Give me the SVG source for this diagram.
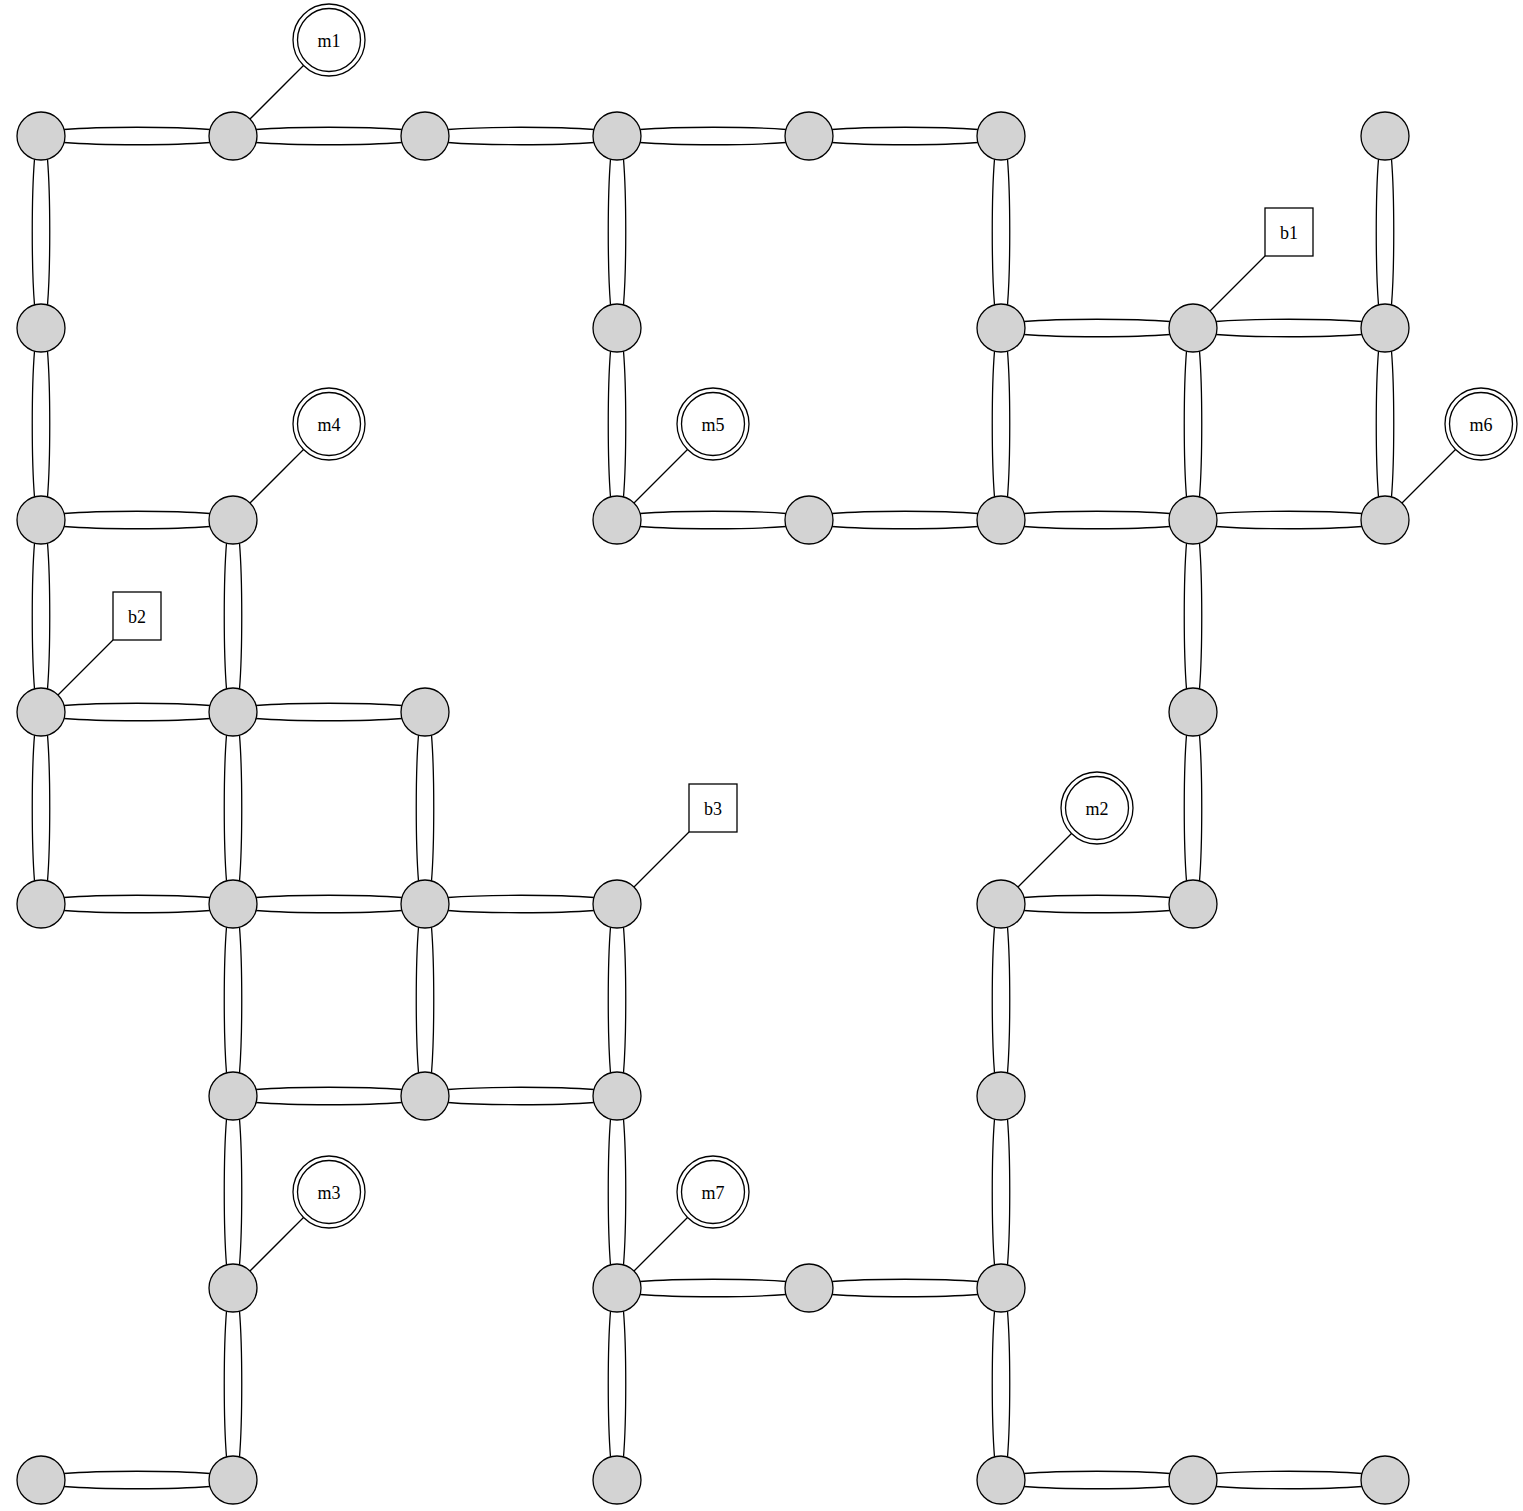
<svg xmlns="http://www.w3.org/2000/svg" xmlns:xlink="http://www.w3.org/1999/xlink" width="1523" height="1511" viewBox="0 0 1523 1511">
<style>
.e{fill:none;stroke:#000;stroke-width:1.3}
.n{fill:#d3d3d3;stroke:#000;stroke-width:1.3}
.m{fill:#fff;stroke:#000;stroke-width:1.3}
.l{stroke:#000;stroke-width:1.3}
text{font-family:"Liberation Serif","Times New Roman",serif;font-size:18px;text-anchor:middle;fill:#000}
</style>
<defs>
<g id="h"><path class="e" d="M23.1,-6.5 C60,-9.5 132,-9.5 168.9,-6.5"/><path class="e" d="M23.1,6.5 C60,9.5 132,9.5 168.9,6.5"/></g>
<g id="v"><path class="e" d="M-6.5,23.1 C-9.5,60 -9.5,132 -6.5,168.9"/><path class="e" d="M6.5,23.1 C9.5,60 9.5,132 6.5,168.9"/></g>
</defs>
<rect width="1523" height="1511" fill="#fff"/>
<g id="connectors">
<use href="#h" x="41" y="136"/><use href="#h" x="233" y="136"/><use href="#h" x="425" y="136"/><use href="#h" x="617" y="136"/><use href="#h" x="809" y="136"/>
<use href="#h" x="1001" y="328"/><use href="#h" x="1193" y="328"/>
<use href="#h" x="41" y="520"/><use href="#h" x="617" y="520"/><use href="#h" x="809" y="520"/><use href="#h" x="1001" y="520"/><use href="#h" x="1193" y="520"/>
<use href="#h" x="41" y="712"/><use href="#h" x="233" y="712"/>
<use href="#h" x="41" y="904"/><use href="#h" x="233" y="904"/><use href="#h" x="425" y="904"/><use href="#h" x="1001" y="904"/>
<use href="#h" x="233" y="1096"/><use href="#h" x="425" y="1096"/>
<use href="#h" x="617" y="1288"/><use href="#h" x="809" y="1288"/>
<use href="#h" x="41" y="1480"/><use href="#h" x="1001" y="1480"/><use href="#h" x="1193" y="1480"/>
<use href="#v" x="41" y="136"/><use href="#v" x="41" y="328"/><use href="#v" x="41" y="520"/><use href="#v" x="41" y="712"/>
<use href="#v" x="233" y="520"/><use href="#v" x="233" y="712"/><use href="#v" x="233" y="904"/><use href="#v" x="233" y="1096"/><use href="#v" x="233" y="1288"/>
<use href="#v" x="425" y="712"/><use href="#v" x="425" y="904"/>
<use href="#v" x="617" y="136"/><use href="#v" x="617" y="328"/><use href="#v" x="617" y="904"/><use href="#v" x="617" y="1096"/><use href="#v" x="617" y="1288"/>
<use href="#v" x="1001" y="136"/><use href="#v" x="1001" y="328"/><use href="#v" x="1001" y="904"/><use href="#v" x="1001" y="1096"/><use href="#v" x="1001" y="1288"/>
<use href="#v" x="1193" y="328"/><use href="#v" x="1193" y="520"/><use href="#v" x="1193" y="712"/>
<use href="#v" x="1385" y="136"/><use href="#v" x="1385" y="328"/>
<line class="l" x1="250" y1="119" x2="303.5" y2="65.5"/>
<line class="l" x1="1210" y1="311" x2="1265" y2="256"/>
<line class="l" x1="250" y1="503" x2="303.5" y2="449.5"/>
<line class="l" x1="634" y1="503" x2="687.5" y2="449.5"/>
<line class="l" x1="1402" y1="503" x2="1455.5" y2="449.5"/>
<line class="l" x1="58" y1="695" x2="113" y2="640"/>
<line class="l" x1="634" y1="887" x2="689" y2="832"/>
<line class="l" x1="1018" y1="887" x2="1071.5" y2="833.5"/>
<line class="l" x1="250" y1="1271" x2="303.5" y2="1217.5"/>
<line class="l" x1="634" y1="1271" x2="687.5" y2="1217.5"/>
</g>
<g id="grid-nodes">
<circle class="n" cx="41" cy="136" r="24"/><circle class="n" cx="233" cy="136" r="24"/><circle class="n" cx="425" cy="136" r="24"/><circle class="n" cx="617" cy="136" r="24"/><circle class="n" cx="809" cy="136" r="24"/><circle class="n" cx="1001" cy="136" r="24"/><circle class="n" cx="1385" cy="136" r="24"/>
<circle class="n" cx="41" cy="328" r="24"/><circle class="n" cx="617" cy="328" r="24"/><circle class="n" cx="1001" cy="328" r="24"/><circle class="n" cx="1193" cy="328" r="24"/><circle class="n" cx="1385" cy="328" r="24"/>
<circle class="n" cx="41" cy="520" r="24"/><circle class="n" cx="233" cy="520" r="24"/><circle class="n" cx="617" cy="520" r="24"/><circle class="n" cx="809" cy="520" r="24"/><circle class="n" cx="1001" cy="520" r="24"/><circle class="n" cx="1193" cy="520" r="24"/><circle class="n" cx="1385" cy="520" r="24"/>
<circle class="n" cx="41" cy="712" r="24"/><circle class="n" cx="233" cy="712" r="24"/><circle class="n" cx="425" cy="712" r="24"/><circle class="n" cx="1193" cy="712" r="24"/>
<circle class="n" cx="41" cy="904" r="24"/><circle class="n" cx="233" cy="904" r="24"/><circle class="n" cx="425" cy="904" r="24"/><circle class="n" cx="617" cy="904" r="24"/><circle class="n" cx="1001" cy="904" r="24"/><circle class="n" cx="1193" cy="904" r="24"/>
<circle class="n" cx="233" cy="1096" r="24"/><circle class="n" cx="425" cy="1096" r="24"/><circle class="n" cx="617" cy="1096" r="24"/><circle class="n" cx="1001" cy="1096" r="24"/>
<circle class="n" cx="233" cy="1288" r="24"/><circle class="n" cx="617" cy="1288" r="24"/><circle class="n" cx="809" cy="1288" r="24"/><circle class="n" cx="1001" cy="1288" r="24"/>
<circle class="n" cx="41" cy="1480" r="24"/><circle class="n" cx="233" cy="1480" r="24"/><circle class="n" cx="617" cy="1480" r="24"/><circle class="n" cx="1001" cy="1480" r="24"/><circle class="n" cx="1193" cy="1480" r="24"/><circle class="n" cx="1385" cy="1480" r="24"/>
</g>
<g id="m1"><circle class="m" cx="329" cy="40" r="36"/><circle class="m" cx="329" cy="40" r="31.5"/><text x="329" y="46.5">m1</text></g>
<g id="m2"><circle class="m" cx="1097" cy="808" r="36"/><circle class="m" cx="1097" cy="808" r="31.5"/><text x="1097" y="814.5">m2</text></g>
<g id="m3"><circle class="m" cx="329" cy="1192" r="36"/><circle class="m" cx="329" cy="1192" r="31.5"/><text x="329" y="1198.5">m3</text></g>
<g id="m4"><circle class="m" cx="329" cy="424" r="36"/><circle class="m" cx="329" cy="424" r="31.5"/><text x="329" y="430.5">m4</text></g>
<g id="m5"><circle class="m" cx="713" cy="424" r="36"/><circle class="m" cx="713" cy="424" r="31.5"/><text x="713" y="430.5">m5</text></g>
<g id="m6"><circle class="m" cx="1481" cy="424" r="36"/><circle class="m" cx="1481" cy="424" r="31.5"/><text x="1481" y="430.5">m6</text></g>
<g id="m7"><circle class="m" cx="713" cy="1192" r="36"/><circle class="m" cx="713" cy="1192" r="31.5"/><text x="713" y="1198.5">m7</text></g>
<g id="b1"><rect class="m" x="1265" y="208" width="48" height="48"/><text x="1289" y="238.5">b1</text></g>
<g id="b2"><rect class="m" x="113" y="592" width="48" height="48"/><text x="137" y="622.5">b2</text></g>
<g id="b3"><rect class="m" x="689" y="784" width="48" height="48"/><text x="713" y="814.5">b3</text></g>
</svg>
